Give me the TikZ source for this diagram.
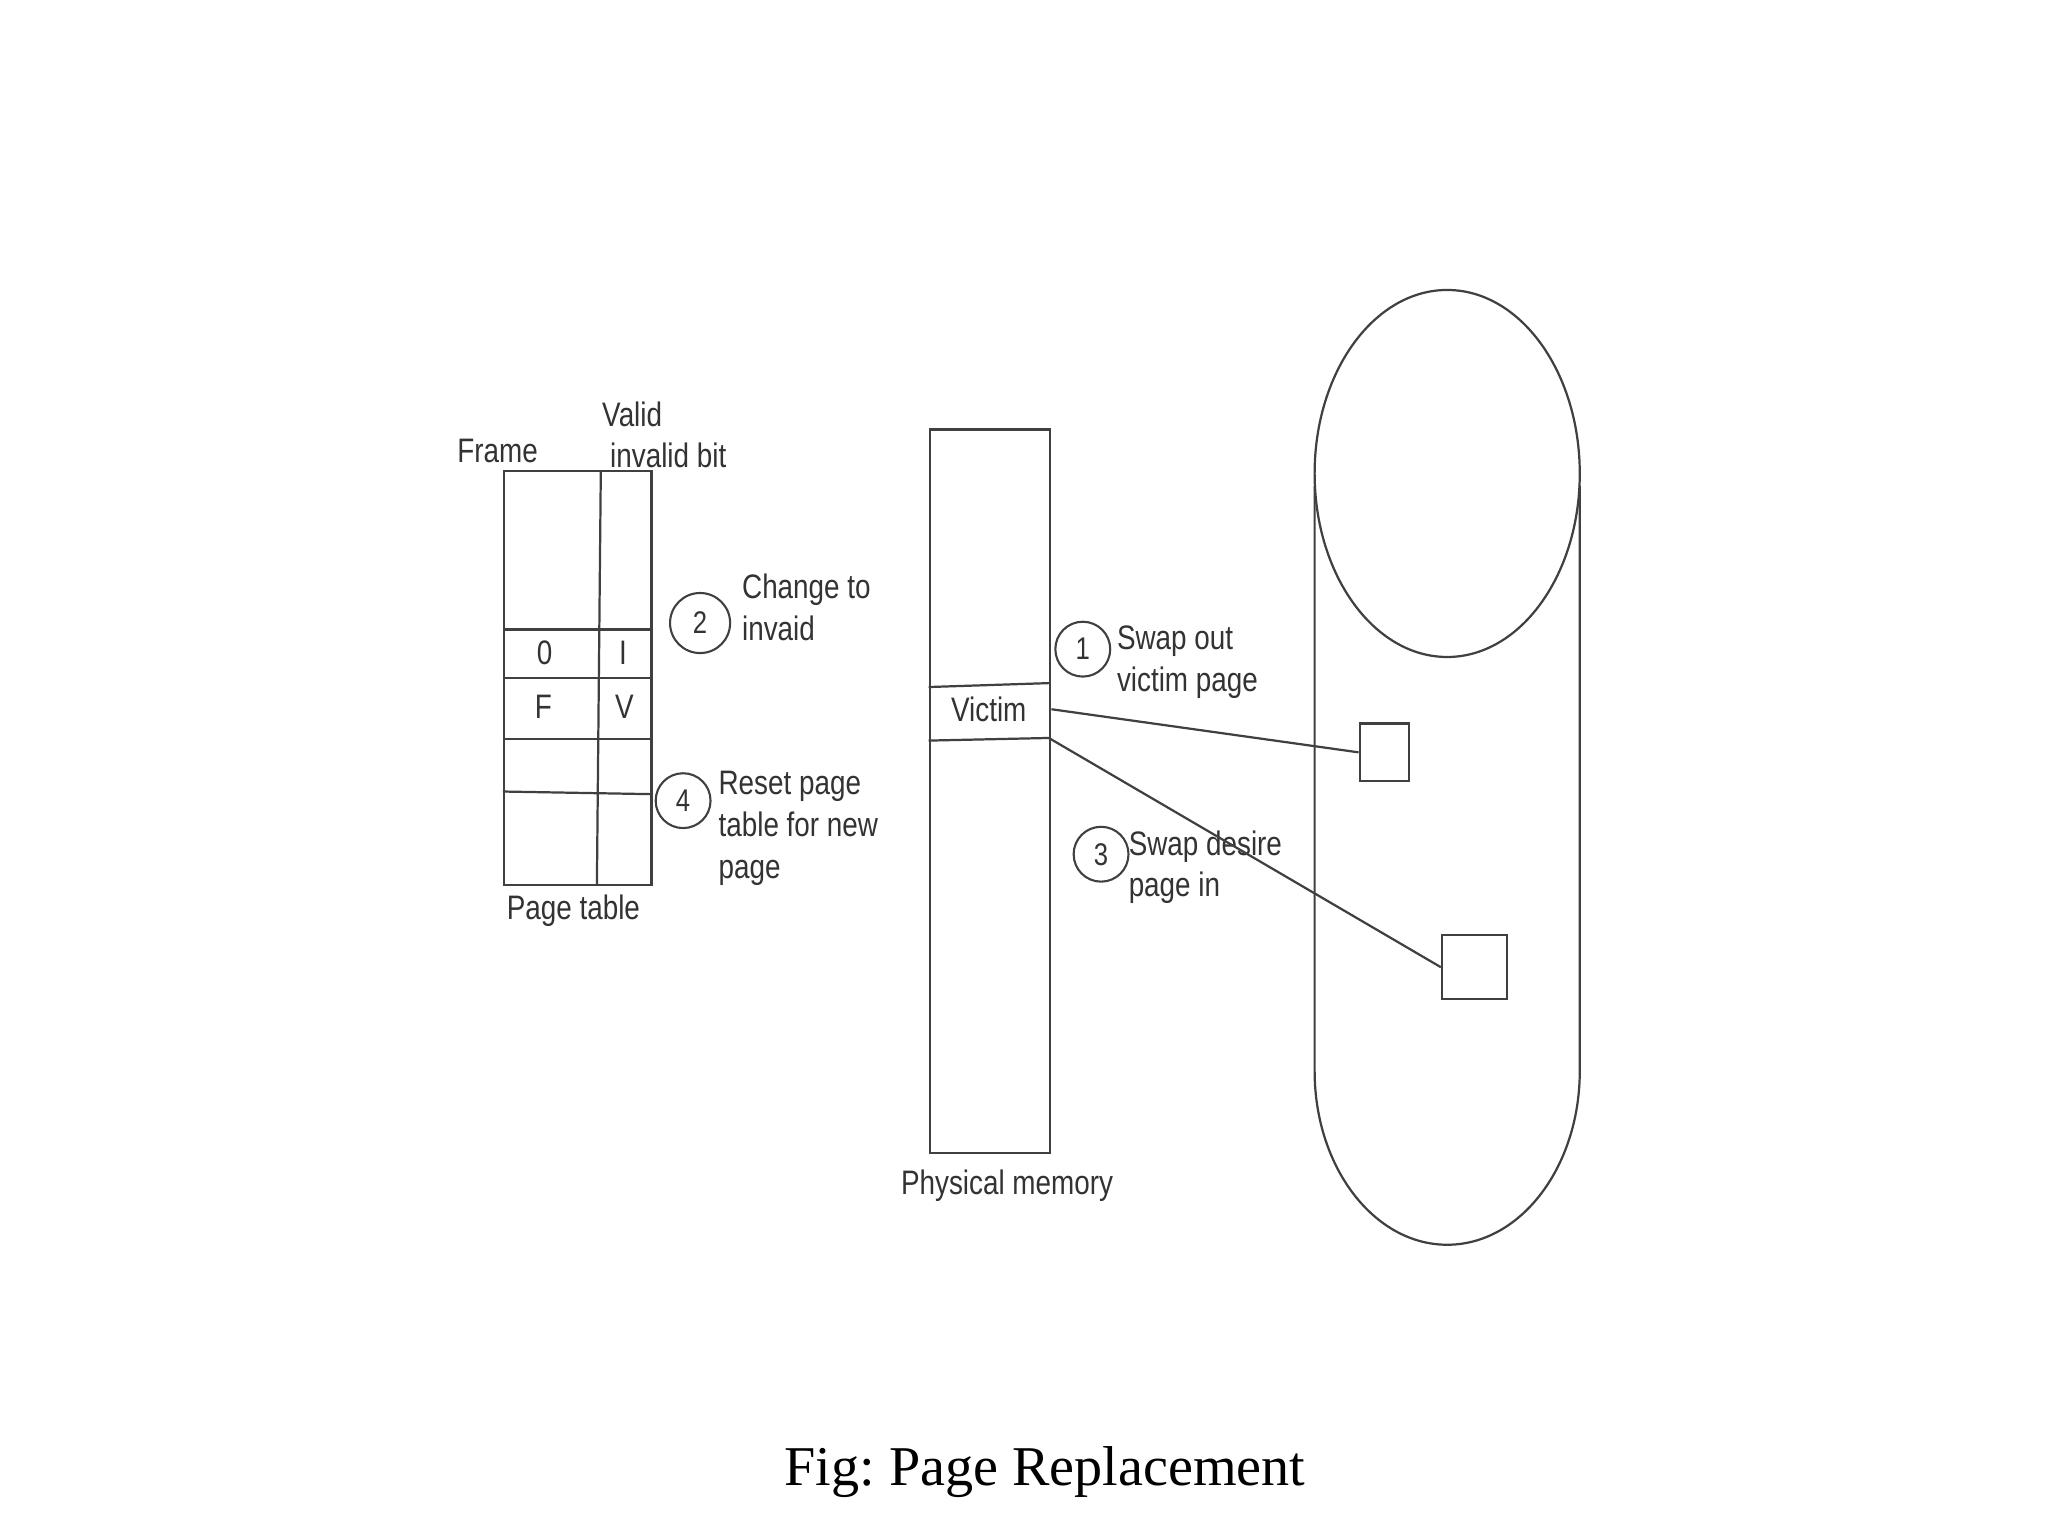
\documentclass[tikz,border=0pt]{standalone}
\usepackage{fontspec}
\setmainfont{Liberation Sans}[FakeStretch=0.82]
\newfontfamily\capfont{Liberation Serif}
\frenchspacing
\begin{document}
\begin{tikzpicture}[x=1pt,y=-1pt]
\tikzset{
  ln/.style={draw=black!75, line width=1.7pt},
  lbl/.style={font=\fontsize{26}{32}\selectfont, text=black!80, inner sep=0pt},
  multilbl/.style={lbl, align=left, anchor=west},
  num/.style={circle, draw=black!75, line width=1.6pt, inner sep=0pt, text=black!80, font=\fontsize{24}{26}\selectfont},
  slot/.style={ln, rectangle, inner sep=0pt},
}
\useasboundingbox (0,0) rectangle (1568,1176);
\fill[white] (0,0) rectangle (1568,1176);

% ---------- page table ----------
\node[slot, minimum width=113pt, minimum height=317pt, anchor=north west] (ptab) at (385,360) {};
\draw[ln] (460,360) -- (457,677);
\draw[ln] (385,482) -- (498,482);
\draw[ln] (385,519) -- (498,519);
\draw[ln] (385,566) -- (498,566);
\draw[ln] (385,606) -- (498,608);
\node[lbl] (frame) at (381,345) {Frame};
\node[lbl] (valid) at (484,317) {Valid};
\node[lbl, anchor=west] (invbit) at (467,349) {invalid bit};
\node[lbl] (c0) at (417,500) {0};
\node[lbl] (cI) at (477,500) {I};
\node[lbl] (cF) at (416,541) {F};
\node[lbl] (cV) at (478,541) {V};
\node[lbl] (ptlabel) at (439,697) {Page table};

\node[num, minimum size=46pt] (n2) at (536,477) {2};
\node[multilbl] (t2) at (568,465) {Change to\\invaid};
\node[num, minimum size=42pt] (n4) at (523,613) {4};
\node[multilbl] (t4) at (550,634) {Reset page\\table for new\\page};

% ---------- physical memory ----------
\node[slot, minimum width=92pt, minimum height=554pt, anchor=north west] (mem) at (711,328) {};
\draw[ln] (711,526) -- (803,523);
\draw[ln] (711,567) -- (803,565);
\node[lbl] (victim) at (757,543) {Victim};
\coordinate (vout) at (805,543);
\coordinate (vin) at (803,565);
\node[lbl] (pmlabel) at (771,908) {Physical memory};

\node[num, minimum size=42pt] (n1) at (829,497) {1};
\node[multilbl] (t1) at (855,507) {Swap out\\victim page};
\node[num, minimum size=42pt] (n3) at (843,654) {3};
\node[multilbl] (t3) at (864,664) {Swap desire\\page in};

% ---------- backing store (cylinder) ----------
\draw[ln] (1108,362.5) ellipse [x radius=101.5, y radius=140.5];
\draw[ln] (1006.5,372) -- (1006.5,820)
  arc[start angle=180, end angle=0, x radius=101.5, y radius=133]
  -- (1209.5,372);

\node[slot, minimum width=38pt, minimum height=44pt] (box1) at (1060,576) {};
\node[slot, minimum width=50pt, minimum height=49pt] (box2) at (1129,740.5) {};

% ---------- connectors ----------
\draw[ln] (vout) -- (box1.west);
\draw[ln] (vin) -- (box2.west);

% ---------- caption ----------
\node[inner sep=0pt, font=\capfont\fontsize{43}{48}\selectfont] (cap) at (800,1127) {Fig: Page Replacement};
\end{tikzpicture}
\end{document}
